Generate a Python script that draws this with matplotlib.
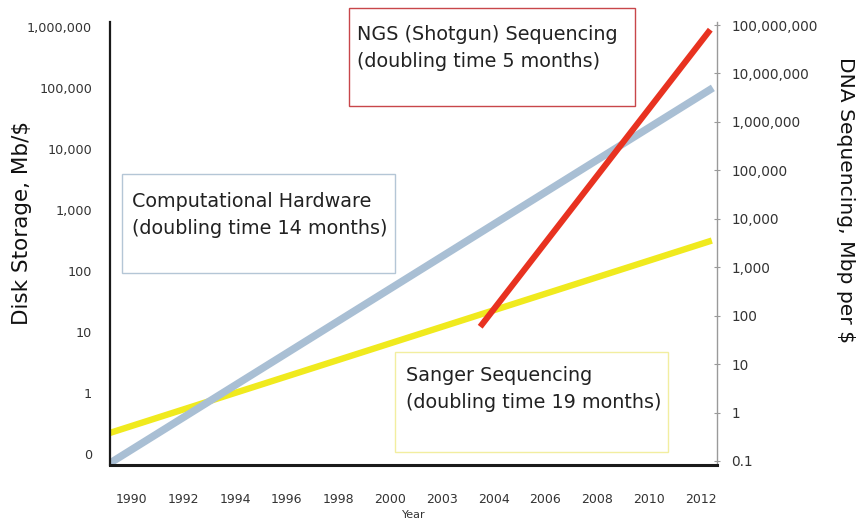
import matplotlib
matplotlib.use('Agg')
import matplotlib.pyplot as plt
from matplotlib.patches import Rectangle
from matplotlib.ticker import FixedLocator, NullLocator

# x axis categories (plotted by index, labels as printed)
years = ['1990', '1992', '1994', '1996', '1998', '2000',
         '2003', '2004', '2006', '2008', '2010', '2012']

# trend lines: start / end position on the category index, and values
hw_x = [-0.42, 11.24]          # computational hardware (left axis, Mb/$)
hw_y = [0.071, 1.0e5]
sanger_x = [-0.42, 11.22]      # Sanger sequencing (right axis, Mbp per $)
sanger_y = [0.38, 3550]
ngs_x = [6.74, 11.19]          # NGS sequencing (right axis, Mbp per $)
ngs_y = [59, 8.0e7]

left_ticks = [0.1, 1, 10, 100, 1e3, 1e4, 1e5, 1e6]
left_labels = ['0', '1', '10', '100', '1,000', '10,000', '100,000', '1,000,000']
right_ticks = [0.1, 1, 10, 100, 1e3, 1e4, 1e5, 1e6, 1e7, 1e8]
right_labels = ['0.1', '1', '10', '100', '1,000', '10,000', '100,000',
                '1,000,000', '10,000,000', '100,000,000']

W, H = 857, 524
fig = plt.figure(figsize=(W / 100, H / 100), dpi=100)
ax = fig.add_axes([110 / W, 1 - 465 / H, 607 / W, 443 / H])
ax2 = ax.twinx()

ax.set_yscale('log')
ax2.set_yscale('log')
ax.set_ylim(10 ** -1.18, 10 ** 6.08)
ax2.set_ylim(10 ** -1.083, 10 ** 8.062)
ax.set_xlim(-0.42, 11.32)

txt = '#333333'
# left axis
ax.yaxis.set_major_locator(FixedLocator(left_ticks))
ax.yaxis.set_minor_locator(NullLocator())
ax.set_yticklabels(left_labels)
ax.tick_params(axis='y', length=0, pad=13, labelsize=9.2, labelcolor=txt)
ax.set_xticks(range(len(years)))
ax.set_xticklabels(years)
ax.tick_params(axis='x', length=0, pad=20, labelsize=9, labelcolor=txt)
ax.set_xlabel('Year', fontsize=8, color=txt, labelpad=3)

# right axis
ax2.yaxis.set_major_locator(FixedLocator(right_ticks))
ax2.yaxis.set_minor_locator(NullLocator())
ax2.set_yticklabels(right_labels)
ax2.tick_params(axis='y', direction='inout', length=5, width=0.8, color='#999999',
                pad=8, labelsize=9.8, labelcolor=txt)

fig.text(22 / W, 1 - 223 / H, 'Disk Storage, Mb/$', fontsize=15.5, color='#111111',
         rotation=90, ha='center', va='center')
fig.text(845 / W, 1 - 200 / H, 'DNA Sequencing, Mbp per $', fontsize=14.6,
         color='#111111', rotation=270, ha='center', va='center')

for a in (ax, ax2):
    a.spines['top'].set_visible(False)
ax.spines['right'].set_visible(False)
ax2.spines['left'].set_visible(False)
ax2.spines['bottom'].set_visible(False)
ax2.spines['right'].set_color('#9a9a9a')
ax2.spines['right'].set_linewidth(1.0)
ax.spines['left'].set_linewidth(1.6)
ax.spines['left'].set_color('#1a1a1a')
ax.spines['bottom'].set_linewidth(2.2)
ax.spines['bottom'].set_color('#1a1a1a')

# hardware line above Sanger, NGS on top of everything
ax.set_zorder(ax2.get_zorder() + 1)
ax.patch.set_visible(False)
ax3 = ax.twinx()
ax3.set_yscale('log')
ax3.set_ylim(ax2.get_ylim())
ax3.axis('off')
ax3.set_zorder(ax.get_zorder() + 1)

ax2.plot(sanger_x, sanger_y, color='#f0ea1e', lw=4.6, solid_capstyle='butt')
ax.plot(hw_x, hw_y, color='#a9bfd4', lw=5.4, solid_capstyle='butt')
ax3.plot(ngs_x, ngs_y, color='#e83220', lw=4.4, solid_capstyle='butt')


def label_box(x0, y0, x1, y1, edge, lines, tx, ty):
    fig.patches.append(Rectangle((x0 / W, 1 - y1 / H), (x1 - x0) / W, (y1 - y0) / H,
                                 transform=fig.transFigure, facecolor='white',
                                 edgecolor=edge, lw=1.0, zorder=5))
    fig.text(tx / W, 1 - ty / H, '\n'.join(lines), fontsize=13.8, color='#222222',
             va='center', ha='left', linespacing=1.55, zorder=6)


label_box(349, 8, 635, 106, '#c8464a',
          ['NGS (Shotgun) Sequencing', '(doubling time 5 months)'], 357, 48)
label_box(122, 174, 395, 273, '#b4c6d6',
          ['Computational Hardware', '(doubling time 14 months)'], 132, 215)
label_box(395, 352, 668, 452, '#f2eea0',
          ['Sanger Sequencing', '(doubling time 19 months)'], 406, 389)

fig.savefig('out.png', dpi=100)
